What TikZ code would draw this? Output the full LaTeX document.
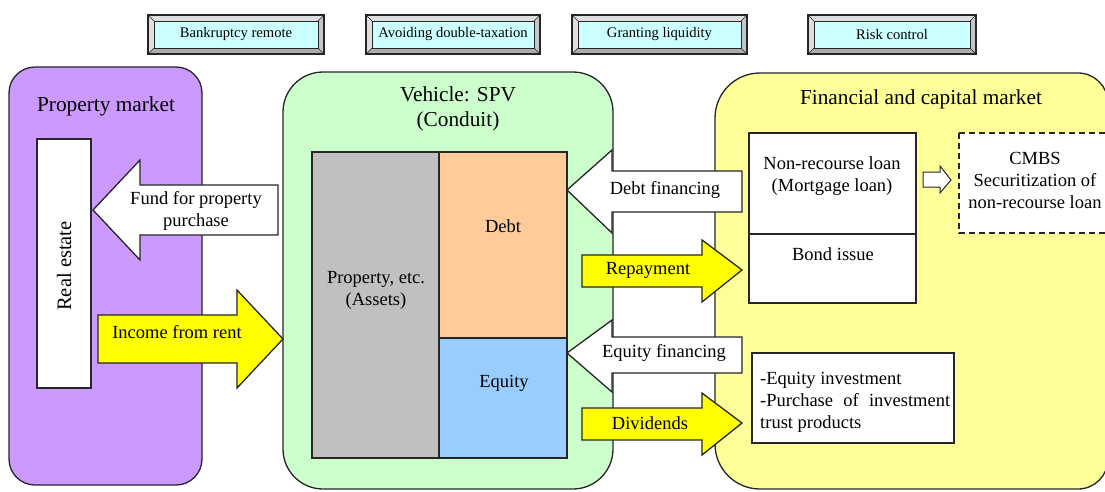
\documentclass[tikz,border=0pt]{standalone}
\usepackage{fontspec}
\setmainfont{Liberation Serif}
\definecolor{cpurple}{HTML}{CC99FF}
\definecolor{cgreen}{HTML}{CCFFCC}
\definecolor{cyellowbox}{HTML}{FFFF99}
\definecolor{cyellow}{HTML}{FFFF00}
\definecolor{cgray}{HTML}{C0C0C0}
\definecolor{corange}{HTML}{FFCC99}
\definecolor{cblue}{HTML}{99CCFF}
\definecolor{ccyan}{HTML}{CCFFFF}
\definecolor{cline}{HTML}{262626}
\begin{document}
\begin{tikzpicture}[x=1pt,y=-1pt,
  box/.style={draw=cline, line width=1.3pt},
  blockarrow/.style={draw=cline, line width=1.3pt, line join=miter},
  body/.style={font=\fontsize{18.5}{22}\selectfont, align=center, inner sep=0pt},
  ttl/.style={font=\fontsize{21.3}{25}\selectfont, align=center, inner sep=0pt},
  btntext/.style={font=\fontsize{14.6}{17}\selectfont, inner sep=0pt},
]
\useasboundingbox (0,0) rectangle (1105,491);
\clip (0,0) rectangle (1105,491);
\fill[white] (0,0) rectangle (1105,491);

% ---------- top buttons ----------
\foreach \l/\r/\t/\n in {148/324/Bankruptcy remote/b1, 366/540/Avoiding double-taxation/b2, 572/747/Granting liquidity/b3, 808/976/Risk control/b4}{
  \fill[gray!45] (\l,15) rectangle (\r,54);
  \fill[gray!25] (\l,15) -- (\r,15) -- (\r-6,21) -- (\l+6,21) -- cycle;
  \fill[gray!25] (\l,15) -- (\l+6,21) -- (\l+6,48) -- (\l,54) -- cycle;
  \fill[gray!65] (\l,54) -- (\l+6,48) -- (\r-6,48) -- (\r,54) -- cycle;
  \draw[cline, line width=0.6pt] (\l,15) -- (\l+6,21) (\r,15) -- (\r-6,21) (\l,54) -- (\l+6,48) (\r,54) -- (\r-6,48);
  \draw[cline, line width=0.8pt, fill=ccyan] (\l+6,21) rectangle (\r-6,48);
  \draw[cline, line width=1.8pt] (\l,15) rectangle (\r,54);
  \node[btntext] (\n) at ({(\l+\r)/2},34.5) {\t};
}

% ---------- property market ----------
\draw[box, fill=cpurple, rounded corners=26pt] (9,67) rectangle (202,485);
\node[ttl] (pmtitle) at (106,106) {Property market};
\draw[box, fill=white] (37,139) rectangle (91,388);
\node[body, rotate=90, font=\fontsize{20.5}{24}\selectfont] (realestate) at (64,266) {Real estate};

% ---------- SPV ----------
\draw[box, fill=cgreen, rounded corners=40pt] (283,72) rectangle (613,489);
\node[ttl] (spvtitle) at (458,109) {Vehicle: SPV\\(Conduit)};
\draw[box, fill=cgray] (312,152) rectangle (439,458);
\draw[box, fill=corange] (439,152) rectangle (567,338);
\draw[box, fill=cblue] (439,338) rectangle (567,458);
\node[body] (assets) at (376,290) {Property, etc.\\(Assets)};
\node[body] (debt) at (503,226) {Debt};
\node[body] (equity) at (504,383) {Equity};

% ---------- financial and capital market ----------
\draw[box, fill=cyellowbox] (910,73) [rounded corners=30pt] -- (1108,73) -- (1108,489) -- (910,489) [rounded corners=45pt] -- (715,489) -- (715,73) -- cycle;
\node[ttl] (fmtitle) at (921,99) {Financial and capital market};
\draw[box, fill=white] (749,133) rectangle (916,303);
\draw[box] (749,234) -- (916,234);
\node[body] (nonrec) at (832,176) {Non-recourse loan\\(Mortgage loan)};
\node[body] (bond) at (833,254) {Bond issue};
\draw[box, dashed, dash pattern=on 6pt off 4pt, line width=1.8pt, fill=white] (959,133) rectangle (1112,233);
\node[body] (cmbs) at (1035,180) {CMBS\\Securitization of\\non-recourse loan};
\draw[box, fill=white] (752,353) rectangle (954,443);
\node[body, align=left, anchor=west] (eqinv) at (760,402) {-Equity investment\\\makebox[190pt][s]{-Purchase of investment}\\trust products};
% small arrow
\draw[blockarrow, fill=white, line width=1pt] (923,172) -- (940,172) -- (940,166) -- (951,180) -- (940,193) -- (940,187) -- (923,187) -- cycle;

% ---------- block arrows ----------
\draw[blockarrow, fill=white] (93,210) -- (140,160) -- (140,185) -- (278,185) -- (278,235) -- (140,235) -- (140,260) -- cycle;
\node[body] (fund) at (196,211) {Fund for property\\purchase};

\draw[blockarrow, fill=cyellow] (98,315) -- (237,315) -- (237,290) -- (283,339) -- (237,388) -- (237,363) -- (98,363) -- cycle;
\node[body] (rent) at (177,332) {Income from rent};

\draw[blockarrow, fill=white] (567,190) -- (612,150) -- (612,171) -- (742,171) -- (742,212) -- (612,212) -- (612,233) -- cycle;
\node[body] (debtfin) at (665,190) {Debt financing};

\draw[blockarrow, fill=cyellow] (582,255) -- (702,255) -- (702,240) -- (742,270) -- (702,302) -- (702,287) -- (582,287) -- cycle;
\node[body] (repay) at (648,270) {Repayment};

\draw[blockarrow, fill=white] (567,353) -- (612,320) -- (612,337) -- (742,337) -- (742,373) -- (612,373) -- (612,392) -- cycle;
\node[body] (eqfin) at (664,353) {Equity financing};

\draw[blockarrow, fill=cyellow] (582,408) -- (702,408) -- (702,393) -- (742,423) -- (702,455) -- (702,440) -- (582,440) -- cycle;
\node[body] (div) at (650,423) {Dividends};
\end{tikzpicture}
\end{document}
